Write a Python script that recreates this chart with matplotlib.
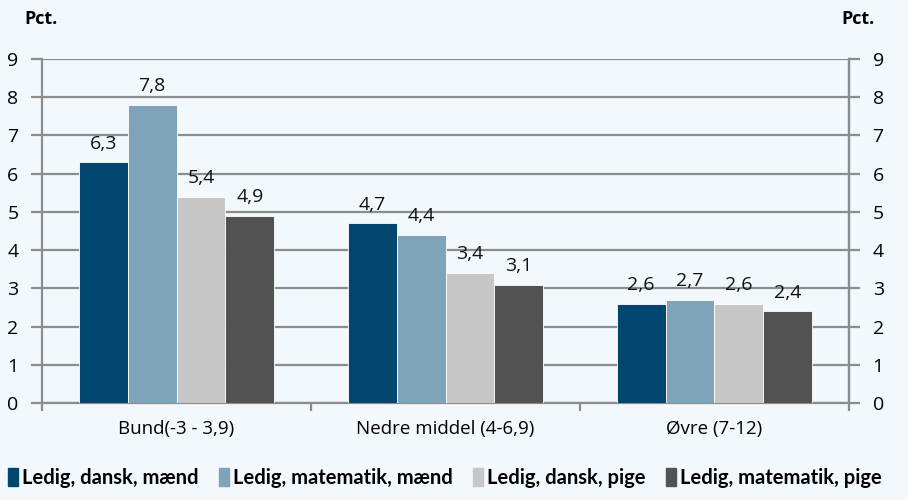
import numpy as np
import matplotlib.pyplot as plt

categories = ['Bund(-3 - 3,9)', 'Nedre middel (4-6,9)', 'Øvre (7-12)']
series = ['Ledig, dansk, mænd', 'Ledig, matematik, mænd', 'Ledig, dansk, pige', 'Ledig, matematik, pige']
values = [
    [6.3, 4.7, 2.6],
    [7.8, 4.4, 2.7],
    [5.4, 3.4, 2.6],
    [4.9, 3.1, 2.4],
]
labels = [
    ['6,3', '4,7', '2,6'],
    ['7,8', '4,4', '2,7'],
    ['5,4', '3,4', '2,6'],
    ['4,9', '3,1', '2,4'],
]
colors = ['#00466E', '#7FA3B9', '#C6C6C6', '#525252']
yticks = list(range(0, 10))

bg = '#F3F8FC'
grid_c = '#8C8C8C'
plt.rcParams['font.family'] = ['Open Sans', 'DejaVu Sans']

fig = plt.figure(figsize=(9.08, 5.0), dpi=100, facecolor=bg)
ax = fig.add_axes([0.0463, 0.194, 0.8887, 0.688])
ax.set_facecolor(bg)

x = np.arange(len(categories))
w = 0.182
for i, (vals, c) in enumerate(zip(values, colors)):
    pos = x + (i - 1.5) * w
    ax.bar(pos, vals, width=w, color=c, edgecolor='white', linewidth=0.6, zorder=3)
    for p, v, t in zip(pos, vals, labels[i]):
        ax.text(p, v + 0.25, t, ha='center', va='bottom', fontsize=14, color='#111111')

ax.set_xlim(-0.5, len(categories) - 0.5)
ax.set_ylim(0, 9)
ax.set_yticks(yticks)
ax.set_yticklabels([str(t) for t in yticks], fontsize=14)
ax.yaxis.grid(True, color=grid_c, linewidth=1.6, zorder=0)
ax.set_axisbelow(True)

# group boundary ticks on the x-axis, category labels centred
ax.set_xticks([-0.5, 0.5, 1.5, 2.5])
ax.set_xticklabels([])
ax.set_xticks(x, minor=True)
ax.set_xticklabels(categories, minor=True, fontsize=13.5)
ax.tick_params(axis='x', which='minor', length=0, pad=12)
ax.tick_params(axis='x', which='major', length=6, width=1.6, color=grid_c, direction='out')
ax.tick_params(axis='y', length=8, width=1.6, color=grid_c, pad=9)

ax.spines['top'].set_visible(False)
for s in ['left', 'right', 'bottom']:
    ax.spines[s].set_color(grid_c)
    ax.spines[s].set_linewidth(1.6)

ax2 = ax.twinx()
ax2.set_ylim(0, 9)
ax2.set_yticks(yticks)
ax2.set_yticklabels([str(t) for t in yticks], fontsize=14)
ax2.tick_params(axis='y', length=8, width=1.6, color=grid_c, pad=9)
for s in ['top', 'left', 'bottom']:
    ax2.spines[s].set_visible(False)
ax2.spines['right'].set_color(grid_c)
ax2.spines['right'].set_linewidth(1.6)

fig.text(0.027, 0.962, 'Pct.', fontsize=13, fontweight='bold', ha='left', va='center')
fig.text(0.927, 0.962, 'Pct.', fontsize=13, fontweight='bold', ha='left', va='center')

handles = [plt.Rectangle((0, 0), 1, 1, color=c) for c in colors]
fig.legend(handles, series, loc='lower center', bbox_to_anchor=(0.49, -0.012), ncol=4,
           frameon=False, handlelength=0.5, handleheight=1.0, handletextpad=0.2,
           columnspacing=1.0, prop={'family': 'Lato', 'weight': 'bold', 'size': 14.5})

fig.savefig('out.png', dpi=100, facecolor=bg)
